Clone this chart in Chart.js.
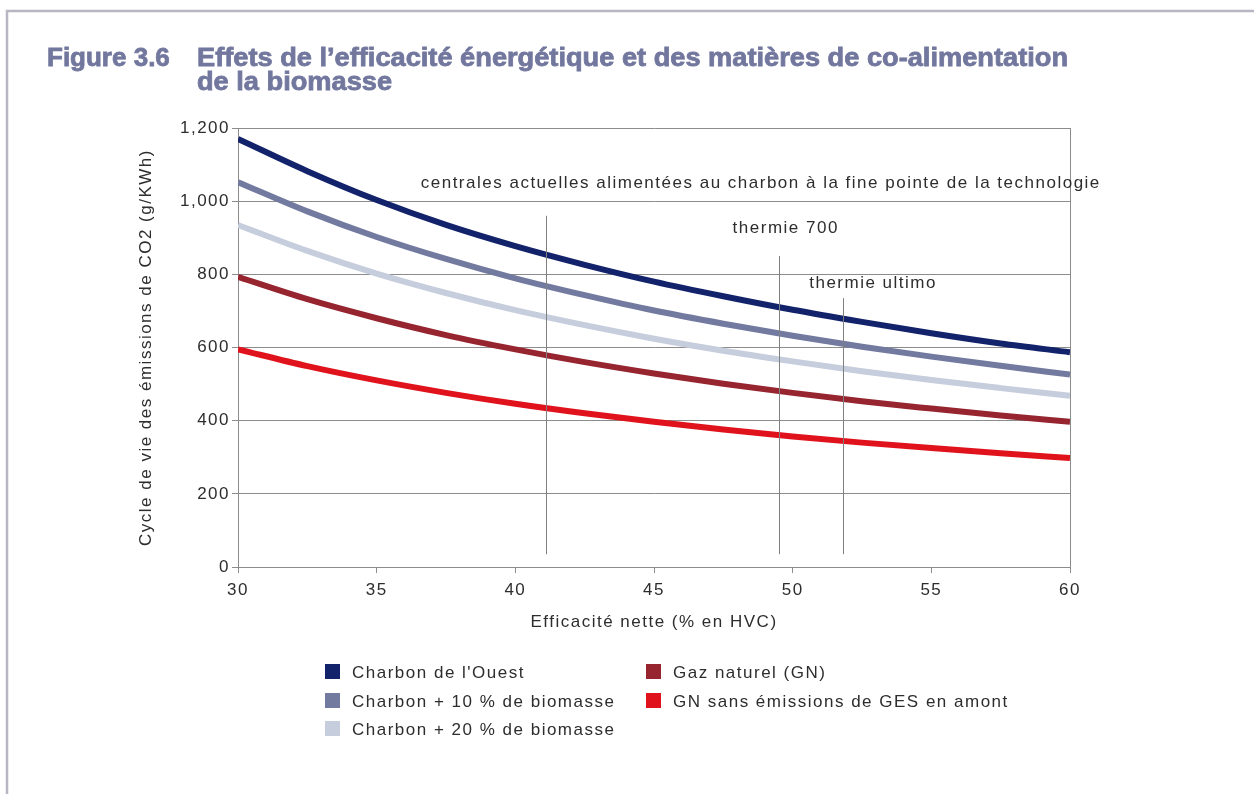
<!DOCTYPE html>
<html lang="fr">
<head>
<meta charset="utf-8">
<title>Figure 3.6</title>
<script src="https://cdn.jsdelivr.net/npm/chart.js@4"></script>
<style>
    html, body { margin: 0; padding: 0; background: #ffffff; }
    #wrap { width: 1254px; height: 794px; }
</style>
</head>
<body>
<div id="wrap"><canvas id="myChart" width="1254" height="794"></canvas></div>
<script>
"use strict";

// efficacité nette (% en HVC)
const efficacite = [30, 32.5, 35, 37.5, 40, 42.5, 45, 47.5, 50, 52.5, 55, 57.5, 60];

// émissions g/KWh
const charbonOuest = [1170, 1082, 1003, 935, 877, 826, 780, 740, 703, 670, 639, 611, 587];
const charbonBio10 = [1052, 972, 902, 842, 789, 743, 701, 665, 632, 602, 575, 550, 526];
const charbonBio20 = [935, 864, 802, 749, 702, 661, 624, 591, 562, 535, 511, 489, 468];
const gazNaturel = [793, 732, 680, 634, 595, 560, 529, 501, 476, 453, 433, 414, 397];
const gnSansGes = [595, 549, 510, 476, 446, 420, 397, 376, 357, 340, 325, 311, 298];

const seriesNames = [
    "Charbon de l'Ouest",
    "Charbon + 10 % de biomasse",
    "Charbon + 20 % de biomasse",
    "Gaz naturel (GN)",
    "GN sans émissions de GES en amont"
];
const seriesColors = ["#13236b", "#737a9f", "#c6cddc", "#962530", "#e0131c"];

const yTicks = [0, 200, 400, 600, 800, 1000, 1200];
const xTicks = [30, 35, 40, 45, 50, 55, 60];

// lignes verticales (technologies) : position x, haut et bas en g/KWh
const markerX = [41.1, 49.5, 51.8];
const markerTop = [960, 850, 735];
const markerBottom = 35;

const noteTexts = [
    "centrales actuelles alimentées au charbon à la fine pointe de la technologie",
    "thermie 700",
    "thermie ultimo"
];
const noteX = [48.85, 49.75, 52.9];
const noteY = [1048, 925, 776];

const FONT = "'Liberation Sans', Arial, sans-serif";
const TEXT = "#2d2d2d";
const GRID = "#8c8c8c";
const SPACING = "1.5px";

function toPoints(values) {
    return values.map((v, i) => ({ x: efficacite[i], y: v }));
}

const allSeries = [charbonOuest, charbonBio10, charbonBio20, gazNaturel, gnSansGes];

const datasets = allSeries.map((vals, i) => ({
    label: seriesNames[i],
    data: toPoints(vals),
    borderColor: seriesColors[i],
    backgroundColor: seriesColors[i],
    borderWidth: 6,
    pointRadius: 0,
    cubicInterpolationMode: "monotone",
    fill: false
})).reverse(); // charbon de l'Ouest dessiné en dernier (au-dessus)

// texte un peu espacé comme sur l'original
const spacingPlugin = {
    id: "spacing",
    beforeLayout(chart) { chart.ctx.letterSpacing = SPACING; },
    beforeDraw(chart) { chart.ctx.letterSpacing = SPACING; }
};

// cadre, titre, repères et légende
const decorPlugin = {
    id: "decor",
    beforeDraw(chart) {
        const c = chart.ctx;
        c.save();
        c.fillStyle = "#ffffff";
        c.fillRect(0, 0, chart.width, chart.height);
        c.strokeStyle = "#b7b7c4";
        c.lineWidth = 2.5;
        c.beginPath();
        c.moveTo(7, chart.height);
        c.lineTo(7, 11);
        c.lineTo(chart.width, 11);
        c.stroke();

        // titre
        c.letterSpacing = "0px";
        c.fillStyle = "#72779e";
        c.strokeStyle = "#72779e";
        c.lineWidth = 0.8;
        c.textBaseline = "alphabetic";
        c.font = "bold 26px " + FONT;
        c.fillText("Figure 3.6", 47, 66);
        c.strokeText("Figure 3.6", 47, 66);
        const line1 = "Effets de l\u2019efficacité énergétique et des matières de co-alimentation";
        const w1 = c.measureText(line1).width;
        const sx = 871 / w1;
        c.save();
        c.translate(197, 0);
        c.scale(sx, 1);
        c.fillText(line1, 0, 66);
        c.strokeText(line1, 0, 66);
        c.fillText("de la biomasse", 0, 90);
        c.strokeText("de la biomasse", 0, 90);
        c.restore();
        c.restore();
    },
    afterDatasetsDraw(chart) {
        const c = chart.ctx;
        const xs = chart.scales.x;
        const ys = chart.scales.y;
        c.save();
        c.letterSpacing = SPACING;
        c.strokeStyle = "#808080";
        c.lineWidth = 1;
        markerX.forEach((mx, i) => {
            const px = Math.round(xs.getPixelForValue(mx)) + 0.5;
            c.beginPath();
            c.moveTo(px, ys.getPixelForValue(markerTop[i]));
            c.lineTo(px, ys.getPixelForValue(markerBottom));
            c.stroke();
        });
        c.fillStyle = TEXT;
        c.font = "17px " + FONT;
        c.textAlign = "center";
        c.textBaseline = "middle";
        noteTexts.forEach((t, i) => {
            c.fillText(t, xs.getPixelForValue(noteX[i]), ys.getPixelForValue(noteY[i]));
        });

        // légende sur deux colonnes
        const colX = [325, 646];
        const rowY = [672, 701, 729];
        c.textAlign = "left";
        seriesNames.forEach((name, n) => {
            const col = n < 3 ? 0 : 1;
            const row = n < 3 ? n : n - 3;
            const x = colX[col];
            const y = rowY[row];
            c.fillStyle = seriesColors[n];
            c.fillRect(x, y - 8, 15, 15);
            c.fillStyle = TEXT;
            c.fillText(name, x + 27, y + 1);
        });
        c.restore();
    }
};

new Chart(document.getElementById("myChart"), {
    type: "line",
    data: { datasets: datasets },
    plugins: [spacingPlugin, decorPlugin],
    options: {
        responsive: false,
        animation: false,
        devicePixelRatio: 1,
        layout: { padding: { left: 130, top: 128, right: 184, bottom: 157 } },
        plugins: {
            legend: { display: false },
            title: { display: false },
            tooltip: { enabled: false }
        },
        scales: {
            x: {
                type: "linear",
                min: 30,
                max: 60,
                afterFit(scale) { scale.height = 70; },
                afterBuildTicks(scale) { scale.ticks = xTicks.map(v => ({ value: v })); },
                grid: {
                    drawOnChartArea: true,
                    color: ctx => (ctx.tick && ctx.tick.value === 60 ? GRID : "rgba(0,0,0,0)"),
                    tickColor: GRID,
                    tickLength: 6
                },
                border: { color: GRID },
                ticks: {
                    color: TEXT,
                    font: { family: FONT, size: 17 },
                    padding: 7,
                    maxRotation: 0
                },
                title: {
                    display: true,
                    text: "Efficacité nette (% en HVC)",
                    color: TEXT,
                    font: { family: FONT, size: 17 },
                    padding: { top: 4, bottom: 4 }
                }
            },
            y: {
                min: 0,
                max: 1200,
                afterFit(scale) { scale.width = 108; },
                afterBuildTicks(scale) { scale.ticks = yTicks.map(v => ({ value: v })); },
                grid: { color: GRID, tickColor: GRID, tickLength: 6 },
                border: { color: GRID },
                ticks: {
                    color: TEXT,
                    font: { family: FONT, size: 17 },
                    padding: 2,
                    callback: v => v.toLocaleString("en-US")
                },
                title: {
                    display: true,
                    text: "Cycle de vie des émissions de CO2 (g/KWh)",
                    color: TEXT,
                    font: { family: FONT, size: 17 },
                    padding: { top: 6, bottom: 4 }
                }
            }
        }
    }
});
</script>
</body>
</html>
